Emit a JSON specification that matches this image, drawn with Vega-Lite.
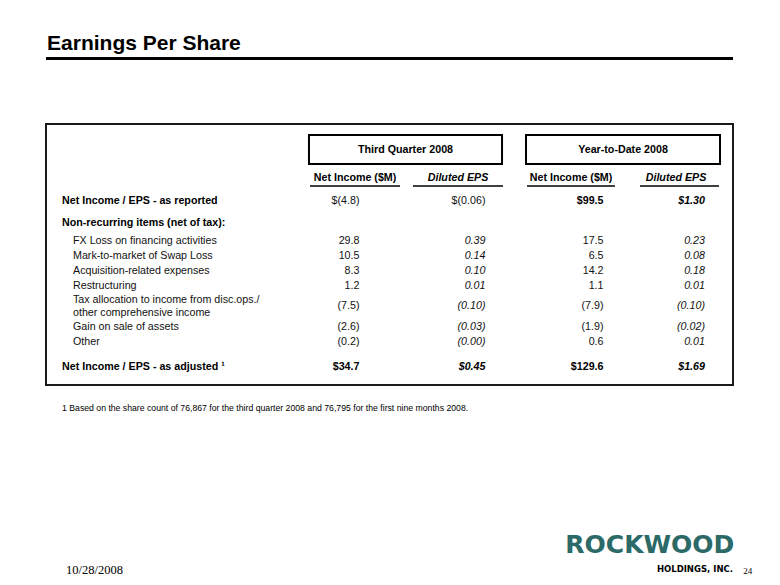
{
  "$schema": "https://vega.github.io/schema/vega-lite/v6.json",
  "width": 687,
  "height": 261,
  "autosize": {"type": "none"},
  "padding": {"left": 46, "top": 124, "right": 47, "bottom": 200},
  "background": "white",
  "config": {"view": {"stroke": "#1a1a1a", "strokeWidth": 2}},
  "datasets": {
    "rows": [
      {"item": "Net Income / EPS - as reported", "kind": "reported", "line": 1, "q3ni": "$(4.8)", "q3eps": "$(0.06)", "ytdni": "$99.5", "ytdeps": "$1.30"},
      {"item": "Non-recurring items (net of tax):", "kind": "section", "line": 2.48, "q3ni": "", "q3eps": "", "ytdni": "", "ytdeps": ""},
      {"item": "FX Loss on financing activities", "kind": "item", "line": 3.7, "q3ni": "29.8", "q3eps": "0.39", "ytdni": "17.5", "ytdeps": "0.23"},
      {"item": "Mark-to-market of Swap Loss", "kind": "item", "line": 4.7, "q3ni": "10.5", "q3eps": "0.14", "ytdni": "6.5", "ytdeps": "0.08"},
      {"item": "Acquisition-related expenses", "kind": "item", "line": 5.7, "q3ni": "8.3", "q3eps": "0.10", "ytdni": "14.2", "ytdeps": "0.18"},
      {"item": "Restructuring", "kind": "item", "line": 6.7, "q3ni": "1.2", "q3eps": "0.01", "ytdni": "1.1", "ytdeps": "0.01"},
      {"item": "Tax allocation to income from disc.ops./\nother comprehensive income", "kind": "item", "line": 8.06, "q3ni": "(7.5)", "q3eps": "(0.10)", "ytdni": "(7.9)", "ytdeps": "(0.10)"},
      {"item": "Gain on sale of assets", "kind": "item", "line": 9.45, "q3ni": "(2.6)", "q3eps": "(0.03)", "ytdni": "(1.9)", "ytdeps": "(0.02)"},
      {"item": "Other", "kind": "item", "line": 10.45, "q3ni": "(0.2)", "q3eps": "(0.00)", "ytdni": "0.6", "ytdeps": "0.01"},
      {"item": "Net Income / EPS - as adjusted ¹", "kind": "adjusted", "line": 12.1, "q3ni": "$34.7", "q3eps": "$0.45", "ytdni": "$129.6", "ytdeps": "$1.69"}
    ]
  },
  "layer": [
    {
      "data": {"values": [{"text": "Earnings Per Share"}]},
      "mark": {"type": "text", "align": "left", "baseline": "alphabetic", "font": "Liberation Sans", "fontSize": 21, "fontWeight": "bold", "color": "#000"},
      "encoding": {
        "x": {"datum": 0.15, "type": "quantitative", "scale": {"domain": [0, 100], "nice": false, "zero": false}, "axis": null},
        "y": {"datum": -9.03, "type": "quantitative", "scale": {"domain": [-4.1, 13.3], "nice": false, "zero": false, "reverse": true}, "axis": null},
        "text": {"field": "text"}
      }
    },
    {
      "data": {"values": [{"text": "title rule"}]},
      "mark": {"type": "rule", "color": "#000", "strokeWidth": 3},
      "encoding": {
        "x": {"datum": 0, "type": "quantitative", "scale": {"domain": [0, 100], "nice": false, "zero": false}, "axis": null},
        "x2": {"datum": 100},
        "y": {"datum": -8.47, "type": "quantitative", "scale": {"domain": [-4.1, 13.3], "nice": false, "zero": false, "reverse": true}, "axis": null}
      }
    },
    {
      "data": {"values": [{"period": "Third Quarter 2008"}]},
      "layer": [
        {
          "mark": {"type": "rect", "filled": false, "stroke": "#000", "strokeWidth": 2},
          "encoding": {
            "x": {"datum": 38.28, "type": "quantitative", "scale": {"domain": [0, 100], "nice": false, "zero": false}, "axis": null},
            "x2": {"datum": 66.38},
            "y": {"datum": -3.37, "type": "quantitative", "scale": {"domain": [-4.1, 13.3], "nice": false, "zero": false, "reverse": true}, "axis": null},
            "y2": {"datum": -1.43}
          }
        },
        {
          "mark": {"type": "text", "align": "center", "baseline": "middle", "font": "Liberation Sans", "fontSize": 10.7, "fontWeight": "bold", "color": "#000"},
          "encoding": {
            "x": {"datum": 52.33, "type": "quantitative", "scale": {"domain": [0, 100], "nice": false, "zero": false}, "axis": null},
            "y": {"datum": -2.4, "type": "quantitative", "scale": {"domain": [-4.1, 13.3], "nice": false, "zero": false, "reverse": true}, "axis": null},
            "text": {"field": "period"}
          }
        }
      ]
    },
    {
      "data": {"values": [{"period": "Year-to-Date 2008"}]},
      "layer": [
        {
          "mark": {"type": "rect", "filled": false, "stroke": "#000", "strokeWidth": 2},
          "encoding": {
            "x": {"datum": 69.87, "type": "quantitative", "scale": {"domain": [0, 100], "nice": false, "zero": false}, "axis": null},
            "x2": {"datum": 98.11},
            "y": {"datum": -3.37, "type": "quantitative", "scale": {"domain": [-4.1, 13.3], "nice": false, "zero": false, "reverse": true}, "axis": null},
            "y2": {"datum": -1.43}
          }
        },
        {
          "mark": {"type": "text", "align": "center", "baseline": "middle", "font": "Liberation Sans", "fontSize": 10.7, "fontWeight": "bold", "color": "#000"},
          "encoding": {
            "x": {"datum": 83.99, "type": "quantitative", "scale": {"domain": [0, 100], "nice": false, "zero": false}, "axis": null},
            "y": {"datum": -2.4, "type": "quantitative", "scale": {"domain": [-4.1, 13.3], "nice": false, "zero": false, "reverse": true}, "axis": null},
            "text": {"field": "period"}
          }
        }
      ]
    },
    {
      "data": {"values": [{"h": "Net Income ($M)"}]},
      "layer": [
        {"mark": {"type": "text", "align": "center", "baseline": "middle", "font": "Liberation Sans", "fontSize": 10.7, "fontWeight": "bold", "color": "#000"},
         "encoding": {"x": {"datum": 44.98, "type": "quantitative", "scale": {"domain": [0, 100], "nice": false, "zero": false}, "axis": null},
                      "y": {"datum": -0.467, "type": "quantitative", "scale": {"domain": [-4.1, 13.3], "nice": false, "zero": false, "reverse": true}, "axis": null},
                      "text": {"field": "h"}}},
        {"mark": {"type": "text", "align": "center", "baseline": "middle", "font": "Liberation Sans", "fontSize": 10.7, "fontWeight": "bold", "color": "#000"},
         "encoding": {"x": {"datum": 76.42, "type": "quantitative", "scale": {"domain": [0, 100], "nice": false, "zero": false}, "axis": null},
                      "y": {"datum": -0.467, "type": "quantitative", "scale": {"domain": [-4.1, 13.3], "nice": false, "zero": false, "reverse": true}, "axis": null},
                      "text": {"field": "h"}}},
        {"mark": {"type": "rule", "color": "#000", "strokeWidth": 1.5},
         "encoding": {"x": {"datum": 38.43, "type": "quantitative", "scale": {"domain": [0, 100], "nice": false, "zero": false}, "axis": null},
                      "x2": {"datum": 51.53},
                      "y": {"datum": 0.033, "type": "quantitative", "scale": {"domain": [-4.1, 13.3], "nice": false, "zero": false, "reverse": true}, "axis": null}}},
        {"mark": {"type": "rule", "color": "#000", "strokeWidth": 1.5},
         "encoding": {"x": {"datum": 70.01, "type": "quantitative", "scale": {"domain": [0, 100], "nice": false, "zero": false}, "axis": null},
                      "x2": {"datum": 82.82},
                      "y": {"datum": 0.033, "type": "quantitative", "scale": {"domain": [-4.1, 13.3], "nice": false, "zero": false, "reverse": true}, "axis": null}}}
      ]
    },
    {
      "data": {"values": [{"h": "Diluted EPS"}]},
      "layer": [
        {"mark": {"type": "text", "align": "center", "baseline": "middle", "font": "Liberation Sans", "fontSize": 10.7, "fontWeight": "bold", "fontStyle": "italic", "color": "#000"},
         "encoding": {"x": {"datum": 59.97, "type": "quantitative", "scale": {"domain": [0, 100], "nice": false, "zero": false}, "axis": null},
                      "y": {"datum": -0.467, "type": "quantitative", "scale": {"domain": [-4.1, 13.3], "nice": false, "zero": false, "reverse": true}, "axis": null},
                      "text": {"field": "h"}}},
        {"mark": {"type": "text", "align": "center", "baseline": "middle", "font": "Liberation Sans", "fontSize": 10.7, "fontWeight": "bold", "fontStyle": "italic", "color": "#000"},
         "encoding": {"x": {"datum": 91.7, "type": "quantitative", "scale": {"domain": [0, 100], "nice": false, "zero": false}, "axis": null},
                      "y": {"datum": -0.467, "type": "quantitative", "scale": {"domain": [-4.1, 13.3], "nice": false, "zero": false, "reverse": true}, "axis": null},
                      "text": {"field": "h"}}},
        {"mark": {"type": "rule", "color": "#000", "strokeWidth": 1.5},
         "encoding": {"x": {"datum": 53.42, "type": "quantitative", "scale": {"domain": [0, 100], "nice": false, "zero": false}, "axis": null},
                      "x2": {"datum": 66.52},
                      "y": {"datum": 0.033, "type": "quantitative", "scale": {"domain": [-4.1, 13.3], "nice": false, "zero": false, "reverse": true}, "axis": null}}},
        {"mark": {"type": "rule", "color": "#000", "strokeWidth": 1.5},
         "encoding": {"x": {"datum": 86.46, "type": "quantitative", "scale": {"domain": [0, 100], "nice": false, "zero": false}, "axis": null},
                      "x2": {"datum": 97.96},
                      "y": {"datum": 0.033, "type": "quantitative", "scale": {"domain": [-4.1, 13.3], "nice": false, "zero": false, "reverse": true}, "axis": null}}}
      ]
    },
    {
      "data": {"name": "rows"},
      "transform": [{"filter": "datum.kind !== 'item'"}],
      "mark": {"type": "text", "align": "left", "baseline": "middle", "font": "Liberation Sans", "fontSize": 10.7, "fontWeight": "bold", "color": "#000"},
      "encoding": {
        "x": {"datum": 2.33, "type": "quantitative", "scale": {"domain": [0, 100], "nice": false, "zero": false}, "axis": null},
        "y": {"field": "line", "type": "quantitative", "scale": {"domain": [-4.1, 13.3], "nice": false, "zero": false, "reverse": true}, "axis": null},
        "text": {"field": "item"}
      }
    },
    {
      "data": {"name": "rows"},
      "transform": [{"filter": "datum.kind === 'item' && indexof(datum.item, '\\n') < 0"}],
      "mark": {"type": "text", "align": "left", "baseline": "middle", "font": "Liberation Sans", "fontSize": 10.7, "color": "#111"},
      "encoding": {
        "x": {"datum": 3.93, "type": "quantitative", "scale": {"domain": [0, 100], "nice": false, "zero": false}, "axis": null},
        "y": {"field": "line", "type": "quantitative", "scale": {"domain": [-4.1, 13.3], "nice": false, "zero": false, "reverse": true}, "axis": null},
        "text": {"field": "item"}
      }
    },
    {
      "data": {"name": "rows"},
      "transform": [{"filter": "datum.kind === 'item' && indexof(datum.item, '\\n') >= 0"}],
      "mark": {"type": "text", "align": "left", "baseline": "middle", "font": "Liberation Sans", "fontSize": 10.7, "color": "#111", "lineBreak": "\n", "lineHeight": 12.7, "dy": -6.35},
      "encoding": {
        "x": {"datum": 3.93, "type": "quantitative", "scale": {"domain": [0, 100], "nice": false, "zero": false}, "axis": null},
        "y": {"field": "line", "type": "quantitative", "scale": {"domain": [-4.1, 13.3], "nice": false, "zero": false, "reverse": true}, "axis": null},
        "text": {"field": "item"}
      }
    },
    {
      "data": {"name": "rows"},
      "transform": [{"filter": "datum.kind !== 'adjusted'"}],
      "mark": {"type": "text", "align": "right", "baseline": "middle", "font": "Liberation Sans", "fontSize": 10.7, "color": "#111"},
      "encoding": {
        "x": {"datum": 45.63, "type": "quantitative", "scale": {"domain": [0, 100], "nice": false, "zero": false}, "axis": null},
        "y": {"field": "line", "type": "quantitative", "scale": {"domain": [-4.1, 13.3], "nice": false, "zero": false, "reverse": true}, "axis": null},
        "text": {"field": "q3ni"}
      }
    },
    {
      "data": {"name": "rows"},
      "transform": [{"filter": "datum.kind === 'adjusted'"}],
      "mark": {"type": "text", "align": "right", "baseline": "middle", "font": "Liberation Sans", "fontSize": 10.7, "fontWeight": "bold", "color": "#000"},
      "encoding": {
        "x": {"datum": 45.63, "type": "quantitative", "scale": {"domain": [0, 100], "nice": false, "zero": false}, "axis": null},
        "y": {"field": "line", "type": "quantitative", "scale": {"domain": [-4.1, 13.3], "nice": false, "zero": false, "reverse": true}, "axis": null},
        "text": {"field": "q3ni"}
      }
    },
    {
      "data": {"name": "rows"},
      "transform": [{"filter": "datum.kind === 'reported'"}],
      "mark": {"type": "text", "align": "right", "baseline": "middle", "font": "Liberation Sans", "fontSize": 10.7, "color": "#111"},
      "encoding": {
        "x": {"datum": 63.97, "type": "quantitative", "scale": {"domain": [0, 100], "nice": false, "zero": false}, "axis": null},
        "y": {"field": "line", "type": "quantitative", "scale": {"domain": [-4.1, 13.3], "nice": false, "zero": false, "reverse": true}, "axis": null},
        "text": {"field": "q3eps"}
      }
    },
    {
      "data": {"name": "rows"},
      "transform": [{"filter": "datum.kind === 'item'"}],
      "mark": {"type": "text", "align": "right", "baseline": "middle", "font": "Liberation Sans", "fontSize": 10.7, "fontStyle": "italic", "color": "#111"},
      "encoding": {
        "x": {"datum": 63.97, "type": "quantitative", "scale": {"domain": [0, 100], "nice": false, "zero": false}, "axis": null},
        "y": {"field": "line", "type": "quantitative", "scale": {"domain": [-4.1, 13.3], "nice": false, "zero": false, "reverse": true}, "axis": null},
        "text": {"field": "q3eps"}
      }
    },
    {
      "data": {"name": "rows"},
      "transform": [{"filter": "datum.kind === 'adjusted'"}],
      "mark": {"type": "text", "align": "right", "baseline": "middle", "font": "Liberation Sans", "fontSize": 10.7, "fontWeight": "bold", "fontStyle": "italic", "color": "#000"},
      "encoding": {
        "x": {"datum": 63.97, "type": "quantitative", "scale": {"domain": [0, 100], "nice": false, "zero": false}, "axis": null},
        "y": {"field": "line", "type": "quantitative", "scale": {"domain": [-4.1, 13.3], "nice": false, "zero": false, "reverse": true}, "axis": null},
        "text": {"field": "q3eps"}
      }
    },
    {
      "data": {"name": "rows"},
      "transform": [{"filter": "datum.kind === 'item'"}],
      "mark": {"type": "text", "align": "right", "baseline": "middle", "font": "Liberation Sans", "fontSize": 10.7, "color": "#111"},
      "encoding": {
        "x": {"datum": 81.15, "type": "quantitative", "scale": {"domain": [0, 100], "nice": false, "zero": false}, "axis": null},
        "y": {"field": "line", "type": "quantitative", "scale": {"domain": [-4.1, 13.3], "nice": false, "zero": false, "reverse": true}, "axis": null},
        "text": {"field": "ytdni"}
      }
    },
    {
      "data": {"name": "rows"},
      "transform": [{"filter": "datum.kind === 'reported' || datum.kind === 'adjusted'"}],
      "mark": {"type": "text", "align": "right", "baseline": "middle", "font": "Liberation Sans", "fontSize": 10.7, "fontWeight": "bold", "color": "#000"},
      "encoding": {
        "x": {"datum": 81.15, "type": "quantitative", "scale": {"domain": [0, 100], "nice": false, "zero": false}, "axis": null},
        "y": {"field": "line", "type": "quantitative", "scale": {"domain": [-4.1, 13.3], "nice": false, "zero": false, "reverse": true}, "axis": null},
        "text": {"field": "ytdni"}
      }
    },
    {
      "data": {"name": "rows"},
      "transform": [{"filter": "datum.kind === 'item'"}],
      "mark": {"type": "text", "align": "right", "baseline": "middle", "font": "Liberation Sans", "fontSize": 10.7, "fontStyle": "italic", "color": "#111"},
      "encoding": {
        "x": {"datum": 95.92, "type": "quantitative", "scale": {"domain": [0, 100], "nice": false, "zero": false}, "axis": null},
        "y": {"field": "line", "type": "quantitative", "scale": {"domain": [-4.1, 13.3], "nice": false, "zero": false, "reverse": true}, "axis": null},
        "text": {"field": "ytdeps"}
      }
    },
    {
      "data": {"name": "rows"},
      "transform": [{"filter": "datum.kind === 'reported' || datum.kind === 'adjusted'"}],
      "mark": {"type": "text", "align": "right", "baseline": "middle", "font": "Liberation Sans", "fontSize": 10.7, "fontWeight": "bold", "fontStyle": "italic", "color": "#000"},
      "encoding": {
        "x": {"datum": 95.92, "type": "quantitative", "scale": {"domain": [0, 100], "nice": false, "zero": false}, "axis": null},
        "y": {"field": "line", "type": "quantitative", "scale": {"domain": [-4.1, 13.3], "nice": false, "zero": false, "reverse": true}, "axis": null},
        "text": {"field": "ytdeps"}
      }
    },
    {
      "data": {"values": [{"note": "1 Based on the share count of 76,867 for the third quarter 2008 and 76,795 for the first nine months 2008."}]},
      "mark": {"type": "text", "align": "left", "baseline": "middle", "font": "Liberation Sans", "fontSize": 8.7, "color": "#000"},
      "encoding": {
        "x": {"datum": 2.33, "type": "quantitative", "scale": {"domain": [0, 100], "nice": false, "zero": false}, "axis": null},
        "y": {"datum": 14.83, "type": "quantitative", "scale": {"domain": [-4.1, 13.3], "nice": false, "zero": false, "reverse": true}, "axis": null},
        "text": {"field": "note"}
      }
    },
    {
      "data": {"values": [{"date": "10/28/2008", "page": "24"}]},
      "layer": [
        {"mark": {"type": "text", "align": "left", "baseline": "alphabetic", "font": "Liberation Serif", "fontSize": 12.5, "color": "#000"},
         "encoding": {"x": {"datum": 2.91, "type": "quantitative", "scale": {"domain": [0, 100], "nice": false, "zero": false}, "axis": null},
                      "y": {"datum": 25.9, "type": "quantitative", "scale": {"domain": [-4.1, 13.3], "nice": false, "zero": false, "reverse": true}, "axis": null},
                      "text": {"field": "date"}}},
        {"mark": {"type": "text", "align": "left", "baseline": "alphabetic", "font": "Liberation Serif", "fontSize": 9, "color": "#000"},
         "encoding": {"x": {"datum": 101.5, "type": "quantitative", "scale": {"domain": [0, 100], "nice": false, "zero": false}, "axis": null},
                      "y": {"datum": 25.9, "type": "quantitative", "scale": {"domain": [-4.1, 13.3], "nice": false, "zero": false, "reverse": true}, "axis": null},
                      "text": {"field": "page"}}}
      ]
    },
    {
      "data": {"values": [{"brand": "ROCKWOOD", "sub": "HOLDINGS, INC."}]},
      "layer": [
        {"mark": {"type": "text", "align": "right", "baseline": "alphabetic", "font": "DejaVu Sans", "fontSize": 25, "fontWeight": "bold", "color": "#2b6a66"},
         "encoding": {"x": {"datum": 100.2, "type": "quantitative", "scale": {"domain": [0, 100], "nice": false, "zero": false}, "axis": null},
                      "y": {"datum": 24.5, "type": "quantitative", "scale": {"domain": [-4.1, 13.3], "nice": false, "zero": false, "reverse": true}, "axis": null},
                      "text": {"field": "brand"}}},
        {"mark": {"type": "text", "align": "right", "baseline": "alphabetic", "font": "DejaVu Sans", "fontSize": 8.5, "fontWeight": "bold", "color": "#000"},
         "encoding": {"x": {"datum": 100, "type": "quantitative", "scale": {"domain": [0, 100], "nice": false, "zero": false}, "axis": null},
                      "y": {"datum": 25.75, "type": "quantitative", "scale": {"domain": [-4.1, 13.3], "nice": false, "zero": false, "reverse": true}, "axis": null},
                      "text": {"field": "sub"}}}
      ]
    }
  ]
}
